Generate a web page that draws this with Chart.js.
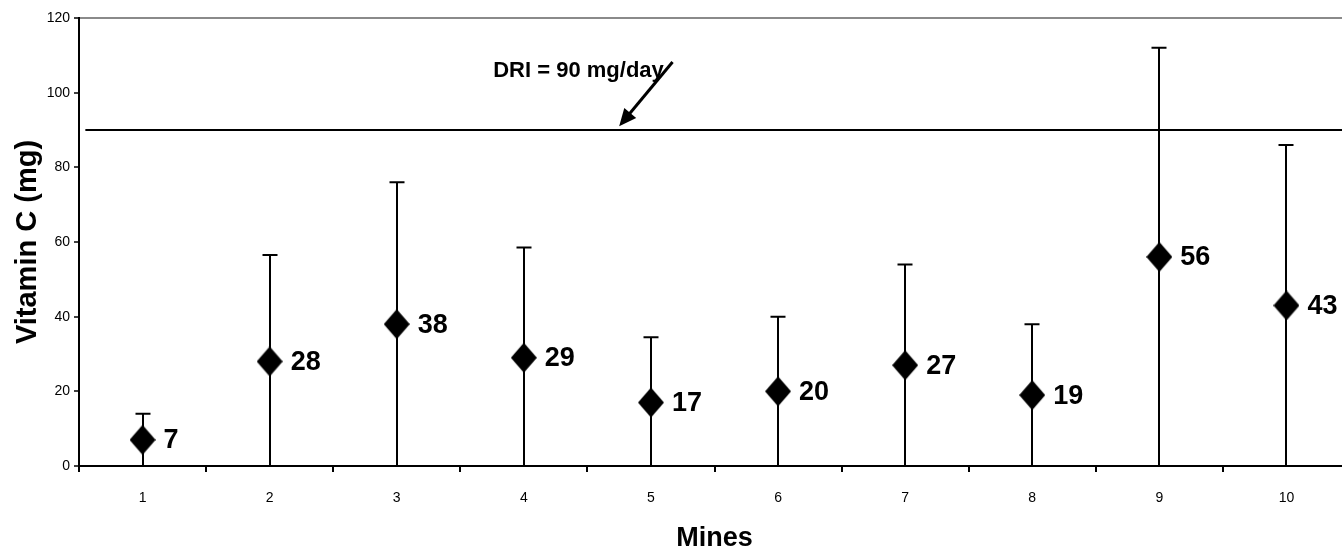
<!DOCTYPE html>
<html>
<head>
<meta charset="utf-8">
<script src="https://cdn.jsdelivr.net/npm/chart.js@4/dist/chart.umd.min.js"></script>
<style>
  html, body { margin: 0; padding: 0; background: #fff; overflow: hidden; }
  #chart { display: block; width: 1364px; height: 551px; }
</style>
</head>
<body>
<canvas id="chart" width="1364" height="551"></canvas>
<script>
// mines and measured vitamin C intake
const mines = ['1', '2', '3', '4', '5', '6', '7', '8', '9', '10'];
const meanVitC = [7, 28, 38, 29, 17, 20, 27, 19, 56, 43];
const upperBounds = [14, 56.5, 76, 58.5, 34.5, 40, 54, 38, 112, 86];
const lowerBounds = [0, 0, 0, 0, 0, 0, 0, 0, 0, 0];
const yTickValues = [0, 20, 40, 60, 80, 100, 120];

// recommended intake reference line
const driValue = 90;
const driLabel = 'DRI = 90 mg/day';

Chart.defaults.font.family = '"Liberation Sans", Arial, sans-serif';
Chart.defaults.color = '#000';

// filled diamond used as point style
const diamond = document.createElement('canvas');
diamond.width = 26;
diamond.height = 30;
(() => {
    const c = diamond.getContext('2d');
    c.fillStyle = '#000';
    c.beginPath();
    c.moveTo(13, 0);
    c.lineTo(26, 15);
    c.lineTo(13, 30);
    c.lineTo(0, 15);
    c.closePath();
    c.fill();
})();

const errorBars = {
    id: 'errorBars',
    beforeDatasetsDraw(chart) {
        const { ctx, chartArea, scales: { x, y } } = chart;
        ctx.save();
        ctx.strokeStyle = '#000';
        ctx.lineWidth = 2;

        // DRI line
        const yd = y.getPixelForValue(driValue);
        ctx.beginPath();
        ctx.moveTo(x.getPixelForValue(-0.45), yd);
        ctx.lineTo(chartArea.right, yd);
        ctx.stroke();

        upperBounds.forEach((hi, i) => {
            const px = Math.round(x.getPixelForValue(i));
            const top = y.getPixelForValue(hi);
            const bottom = y.getPixelForValue(lowerBounds[i]);
            ctx.beginPath();
            ctx.moveTo(px, top);
            ctx.lineTo(px, bottom);
            ctx.moveTo(px - 7.5, top);
            ctx.lineTo(px + 7.5, top);
            ctx.moveTo(px - 7.5, bottom);
            ctx.lineTo(px + 7.5, bottom);
            ctx.stroke();
        });
        ctx.restore();
    },
    afterDatasetsDraw(chart) {
        const { ctx, scales: { x, y } } = chart;
        const meta = chart.getDatasetMeta(0);
        ctx.save();
        ctx.fillStyle = '#000';
        ctx.font = 'bold 27px "Liberation Sans", Arial, sans-serif';
        ctx.textBaseline = 'middle';
        ctx.textAlign = 'left';
        meta.data.forEach((pt, i) => {
            ctx.fillText(String(meanVitC[i]), pt.x + 21, pt.y + 1);
        });

        // DRI annotation with arrow
        ctx.font = 'bold 22px "Liberation Sans", Arial, sans-serif';
        ctx.textAlign = 'center';
        ctx.fillText(driLabel, x.getPixelForValue(3.43), y.getPixelForValue(105.7));

        const x0 = x.getPixelForValue(4.17), y0 = y.getPixelForValue(108.2);
        const x1 = x.getPixelForValue(3.75), y1 = y.getPixelForValue(91);
        const ang = Math.atan2(y1 - y0, x1 - x0);
        const head = 19;
        ctx.strokeStyle = '#000';
        ctx.lineWidth = 3;
        ctx.beginPath();
        ctx.moveTo(x0, y0);
        ctx.lineTo(x1 - Math.cos(ang) * head * 0.8, y1 - Math.sin(ang) * head * 0.8);
        ctx.stroke();
        ctx.beginPath();
        ctx.moveTo(x1, y1);
        ctx.lineTo(x1 - head * Math.cos(ang - 0.42), y1 - head * Math.sin(ang - 0.42));
        ctx.lineTo(x1 - head * Math.cos(ang + 0.42), y1 - head * Math.sin(ang + 0.42));
        ctx.closePath();
        ctx.fill();
        ctx.restore();
    }
};

new Chart(document.getElementById('chart'), {
    type: 'line',
    data: {
        labels: mines,
        datasets: [{
            data: meanVitC,
            showLine: false,
            pointStyle: diamond,
            pointRadius: 13,
            backgroundColor: '#000',
            borderColor: '#000'
        }]
    },
    options: {
        responsive: false,
        animation: false,
        devicePixelRatio: 1,
        events: [],
        layout: { padding: { top: 18, right: 0, bottom: 0, left: 0 } },
        plugins: {
            legend: { display: false },
            tooltip: { enabled: false }
        },
        scales: {
            x: {
                offset: true,
                afterFit: (s) => { s.height = 85; },
                border: { display: true, color: '#000', width: 2 },
                grid: {
                    offset: true,
                    drawOnChartArea: false,
                    drawTicks: true,
                    tickLength: 6,
                    color: '#000',
                    lineWidth: 2
                },
                ticks: {
                    font: { size: 14 },
                    color: '#000',
                    padding: 18,
                    maxRotation: 0
                },
                title: {
                    display: true,
                    text: 'Mines',
                    font: { size: 27, weight: 'bold' },
                    color: '#000',
                    padding: { top: 0, bottom: -4 }
                }
            },
            y: {
                min: 0,
                max: 120,
                afterFit: (s) => { s.width = 79; },
                afterBuildTicks: (s) => { s.ticks = yTickValues.map(v => ({ value: v })); },
                border: { display: true, color: '#000', width: 2 },
                grid: {
                    drawTicks: true,
                    tickLength: 5,
                    tickColor: '#000',
                    tickWidth: 1.5,
                    lineWidth: 2,
                    color: (ctx) => (ctx.tick && ctx.tick.value === 120 ? '#8a8a8a' : 'rgba(0,0,0,0)')
                },
                ticks: {
                    font: { size: 14 },
                    color: '#000',
                    padding: 4
                },
                title: {
                    display: true,
                    text: 'Vitamin C (mg)',
                    font: { size: 29, weight: 'bold' },
                    color: '#000',
                    padding: { top: 11, bottom: 0 }
                }
            }
        }
    },
    plugins: [errorBars]
});
</script>
</body>
</html>
